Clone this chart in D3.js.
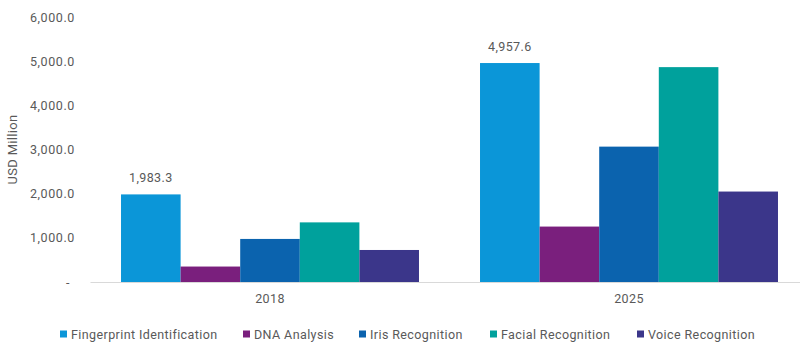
<!DOCTYPE html>
<html>
<head>
<meta charset="utf-8">
<script src="https://cdn.jsdelivr.net/npm/d3@7"></script>
<style>
  html, body { margin: 0; padding: 0; background: #fff; }
  svg { display: block; }
  text { font-family: Roboto, "Liberation Sans", sans-serif; fill: #595959; }
</style>
</head>
<body>
<svg id="chart" width="800" height="346"></svg>
<script>
// Market size by technology, USD million
const years = ["2018", "2025"];
const technologies = ["Fingerprint Identification", "DNA Analysis", "Iris Recognition", "Facial Recognition", "Voice Recognition"];
const colors = ["#0b96d8", "#7a1f7d", "#0b63ae", "#00a19c", "#3b368a"];
const values2018 = [1983.3, 350, 975, 1350, 725];
const values2025 = [4957.6, 1255, 3065, 4865, 2048];
const yTicks = [0, 1000, 2000, 3000, 4000, 5000, 6000];
const labelled = { "2018": 1983.3, "2025": 4957.6 };

const rows = years.map((y, i) => ({ year: y, values: [values2018, values2025][i] }));

const svg = d3.select("#chart");
const margin = { left: 90.5, right: -8.5, top: 17, bottom: 64 };
const W = 800, H = 346;
const FONT = "Roboto, 'Liberation Sans', sans-serif";

const x0 = d3.scaleBand().domain(years).range([margin.left, W - margin.right]).paddingInner(0.17).paddingOuter(0.085);
const x1 = d3.scaleBand().domain(technologies).range([0, x0.bandwidth()]);
const y = d3.scaleLinear().domain([0, 6000]).range([H - margin.bottom, margin.top]);

const fmt = d3.format(",.1f");

// y axis labels
const yAxis = d3.axisLeft(y).tickValues(yTicks).tickSize(0).tickPadding(0)
  .tickFormat(d => d === 0 ? "-" : fmt(d));
const gy = svg.append("g").attr("transform", "translate(75,0)").call(yAxis);
gy.select(".domain").remove();
gy.selectAll("text").attr("font-size", 12.5).attr("fill", "#595959")
  .style("font-family", FONT).style("letter-spacing", "0.6px")
  .attr("dx", d => d === 0 ? -5 : 0);

svg.append("text")
  .attr("transform", `translate(17,${(y(0) + y(6000)) / 2}) rotate(-90)`)
  .attr("text-anchor", "middle").attr("font-size", 13).style("letter-spacing", "0.3px")
  .text("USD Million");

// bars
const groups = svg.append("g").selectAll("g").data(rows).join("g")
  .attr("transform", d => `translate(${x0(d.year)},0)`);
groups.selectAll("rect")
  .data(d => d.values.map((v, i) => ({ tech: technologies[i], v, c: colors[i] })))
  .join("rect")
  .attr("x", d => x1(d.tech))
  .attr("width", x1.bandwidth())
  .attr("y", d => y(d.v))
  .attr("height", d => y(0) - y(d.v))
  .attr("fill", d => d.c);

// value labels on the first series
groups.append("text")
  .attr("x", x1(technologies[0]) + x1.bandwidth() / 2)
  .attr("y", d => y(labelled[d.year]) - 12)
  .attr("text-anchor", "middle").attr("font-size", 12.5).style("letter-spacing", "0.4px")
  .text(d => fmt(labelled[d.year]));

// baseline
svg.append("line")
  .attr("x1", margin.left).attr("x2", W)
  .attr("y1", y(0) + 0.5).attr("y2", y(0) + 0.5)
  .attr("stroke", "#d9d9d9").attr("stroke-width", 1);

// category labels
const xAxis = d3.axisBottom(x0).tickSize(0).tickPadding(0);
const gx = svg.append("g").attr("transform", `translate(0,${y(0) + 21})`).call(xAxis);
gx.select(".domain").remove();
gx.selectAll("text").attr("font-size", 12.5).attr("fill", "#595959").attr("dy", 0)
  .style("font-family", FONT).style("letter-spacing", "0.4px");

// legend
const legendX = [60, 243, 359, 490, 637];
const legend = svg.append("g").selectAll("g").data(technologies).join("g")
  .attr("transform", (d, i) => `translate(${legendX[i]},334)`);
legend.append("rect").attr("x", 0).attr("y", -3.5).attr("width", 7).attr("height", 7)
  .attr("fill", (d, i) => colors[i]);
legend.append("text").attr("x", 11).attr("y", 4.5).attr("font-size", 12.5)
  .style("letter-spacing", "0.4px").text(d => d);
</script>
</body>
</html>
